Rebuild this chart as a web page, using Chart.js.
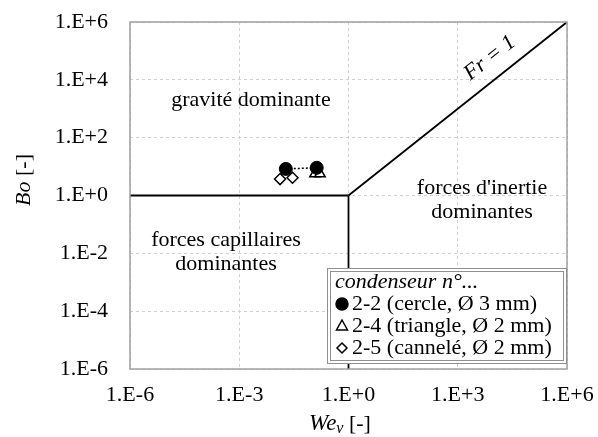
<!DOCTYPE html>
<html>
<head>
<meta charset="utf-8">
<script src="https://cdn.jsdelivr.net/npm/chart.js@4/dist/chart.umd.min.js"></script>
<style>
  body { margin: 0; background: #fff; }
  #wrap { width: 598px; height: 437px; }
</style>
</head>
<body>
<div id="wrap"><canvas id="chart" width="598" height="437"></canvas></div>
<script>
// tick positions and labels
const xTicks = [1e-6, 1e-3, 1, 1e3, 1e6];
const xTickLabels = ['1.E-6', '1.E-3', '1.E+0', '1.E+3', '1.E+6'];
const yTicks = [1e-6, 1e-4, 1e-2, 1, 1e2, 1e4, 1e6];
const yTickLabels = ['1.E-6', '1.E-4', '1.E-2', '1.E+0', '1.E+2', '1.E+4', '1.E+6'];

// regime boundaries
const capGravWe = [1e-6, 1];
const capGravBo = [1, 1];
const capInertWe = [1, 1];
const capInertBo = [1e-6, 1];
const froudeWe = [1, 1e6];
const froudeBo = [1, 1e6];

// measured points, condenseurs 2-2, 2-4, 2-5
const cercleWe = [0.019, 0.134];
const cercleBo = [8.3, 9.1];
const triangleWe = [0.12, 0.165];
const triangleBo = [5.6, 5.6];
const canneleWe = [0.0132, 0.029];
const canneleBo = [3.7, 4.1];

const SERIF = '"Liberation Serif", "Times New Roman", serif';

function pts(xs, ys) {
    return xs.map((x, i) => ({ x: x, y: ys[i] }));
}

function boundary(xs, ys) {
    return {
        data: pts(xs, ys),
        showLine: true,
        borderColor: '#000',
        borderWidth: 1.8,
        pointRadius: 0,
        pointHoverRadius: 0
    };
}

// texts, frame and legend drawn on top of the chart
const overlay = {
    id: 'overlay',
    afterDraw(chart) {
        const ctx = chart.ctx;
        const a = chart.chartArea;
        ctx.save();

        // plot frame
        ctx.strokeStyle = '#a0a0a0';
        ctx.lineWidth = 1.5;
        ctx.strokeRect(a.left, a.top, a.right - a.left, a.bottom - a.top);

        ctx.fillStyle = '#000';
        ctx.textAlign = 'center';
        ctx.textBaseline = 'middle';
        ctx.font = '22px ' + SERIF;
        ctx.fillText('gravité dominante', 251, 100);
        ctx.fillText('forces capillaires', 226, 240);
        ctx.fillText('dominantes', 226, 264);
        ctx.fillText("forces d'inertie", 482, 188);
        ctx.fillText('dominantes', 482, 212);

        // Fr = 1 along the diagonal
        ctx.save();
        ctx.translate(490, 58);
        ctx.rotate(-38 * Math.PI / 180);
        ctx.font = 'italic 22px ' + SERIF;
        ctx.fillText('Fr = 1', 0, 0);
        ctx.restore();

        // y axis title
        ctx.save();
        ctx.translate(24, 180);
        ctx.rotate(-Math.PI / 2);
        ctx.textAlign = 'left';
        ctx.font = 'italic 22px ' + SERIF;
        const wBo = ctx.measureText('Bo').width;
        ctx.font = '22px ' + SERIF;
        const wRest = ctx.measureText(' [-]').width;
        let sx = -(wBo + wRest) / 2;
        ctx.font = 'italic 22px ' + SERIF;
        ctx.fillText('Bo', sx, 0);
        ctx.font = '22px ' + SERIF;
        ctx.fillText(' [-]', sx + wBo, 0);
        ctx.restore();

        // x axis title We_v [-]
        ctx.textAlign = 'left';
        ctx.font = 'italic 23px ' + SERIF;
        const wWe = ctx.measureText('We').width;
        ctx.font = 'italic 16px ' + SERIF;
        const wV = ctx.measureText('v').width;
        ctx.font = '22px ' + SERIF;
        const wB = ctx.measureText(' [-]').width;
        sx = 340 - (wWe + wV + wB) / 2;
        ctx.font = 'italic 23px ' + SERIF;
        ctx.fillText('We', sx, 424);
        ctx.font = 'italic 16px ' + SERIF;
        ctx.fillText('v', sx + wWe, 429);
        ctx.font = '22px ' + SERIF;
        ctx.fillText(' [-]', sx + wWe + wV, 424);

        // legend box
        const lx = 327, ly = 268, lw = 239, lh = 95;
        ctx.fillStyle = '#fff';
        ctx.fillRect(lx, ly, lw, lh);
        ctx.strokeStyle = '#909090';
        ctx.lineWidth = 1;
        ctx.strokeRect(lx + 0.5, ly + 0.5, lw, lh);
        ctx.strokeRect(lx + 3.5, ly + 3.5, lw - 6, lh - 6);

        ctx.fillStyle = '#000';
        ctx.font = 'italic 22px ' + SERIF;
        ctx.fillText('condenseur n°...', 335, 282);
        ctx.font = '22px ' + SERIF;
        const rows = ['2-2 (cercle, Ø 3 mm)', '2-4 (triangle, Ø 2 mm)', '2-5 (cannelé, Ø 2 mm)'];
        rows.forEach((t, i) => {
            const y = 304 + i * 22;
            ctx.fillStyle = '#000';
            ctx.fillText(t, 352, y);
            ctx.strokeStyle = '#000';
            ctx.fillStyle = i === 0 ? '#000' : '#fff';
            ctx.lineWidth = 1.5;
            ctx.beginPath();
            if (i === 0) {
                ctx.arc(342, y, 6, 0, Math.PI * 2);
            } else if (i === 1) {
                ctx.moveTo(342, y - 6);
                ctx.lineTo(347.5, y + 4);
                ctx.lineTo(336.5, y + 4);
                ctx.closePath();
            } else {
                ctx.moveTo(342, y - 5);
                ctx.lineTo(347, y);
                ctx.lineTo(342, y + 5);
                ctx.lineTo(337, y);
                ctx.closePath();
            }
            ctx.fill();
            ctx.stroke();
        });

        ctx.restore();
    }
};

const ctx = document.getElementById('chart').getContext('2d');
new Chart(ctx, {
    type: 'scatter',
    data: {
        datasets: [
            {
                label: '2-5',
                data: pts(canneleWe, canneleBo),
                showLine: true,
                borderColor: '#000',
                borderWidth: 1.5,
                borderDash: [2, 2],
                pointStyle: 'rectRot',
                pointRadius: 5.5,
                pointBackgroundColor: '#fff',
                pointBorderColor: '#000',
                pointBorderWidth: 1.5
            },
            {
                label: '2-2',
                data: pts(cercleWe, cercleBo),
                showLine: true,
                borderColor: '#000',
                borderWidth: 1.5,
                borderDash: [2, 2],
                pointStyle: 'circle',
                pointRadius: 6.5,
                pointBackgroundColor: '#000',
                pointBorderColor: '#000',
                pointBorderWidth: 1
            },
            {
                label: '2-4',
                data: pts(triangleWe, triangleBo),
                showLine: true,
                borderColor: '#000',
                borderWidth: 1.5,
                borderDash: [2, 2],
                pointStyle: 'triangle',
                pointRadius: 6,
                pointBackgroundColor: '#fff',
                pointBorderColor: '#000',
                pointBorderWidth: 1.5
            },
            boundary(capGravWe, capGravBo),
            boundary(capInertWe, capInertBo),
            boundary(froudeWe, froudeBo)
        ]
    },
    options: {
        responsive: false,
        animation: false,
        layout: { padding: { top: 22, right: 31, left: 0, bottom: 0 } },
        plugins: {
            legend: { display: false },
            tooltip: { enabled: false }
        },
        scales: {
            x: {
                type: 'logarithmic',
                min: 1e-6,
                max: 1e6,
                afterBuildTicks: s => { s.ticks = xTicks.map(v => ({ value: v })); },
                afterFit: s => {
                    s.height = 68;
                    s.paddingLeft = 0;
                    s.paddingRight = 0;
                    s.paddingTop = 0;
                    s.paddingBottom = 0;
                },
                ticks: {
                    color: '#000',
                    font: { family: SERIF, size: 22 },
                    padding: 13,
                    maxRotation: 0,
                    autoSkip: false,
                    callback: (v, i) => xTickLabels[i]
                },
                grid: { color: '#d0d0d0', tickLength: 0, lineWidth: 1 },
                border: { display: false, dash: [3, 3] }
            },
            y: {
                type: 'logarithmic',
                min: 1e-6,
                max: 1e6,
                afterBuildTicks: s => { s.ticks = yTicks.map(v => ({ value: v })); },
                afterFit: s => {
                    s.width = 130;
                    s.paddingLeft = 0;
                    s.paddingRight = 0;
                    s.paddingTop = 0;
                    s.paddingBottom = 0;
                },
                ticks: {
                    color: '#000',
                    font: { family: SERIF, size: 22 },
                    padding: 22,
                    autoSkip: false,
                    callback: (v, i) => yTickLabels[i]
                },
                grid: { color: '#d0d0d0', tickLength: 0, lineWidth: 1 },
                border: { display: false, dash: [3, 3] }
            }
        }
    },
    plugins: [overlay]
});
</script>
</body>
</html>
